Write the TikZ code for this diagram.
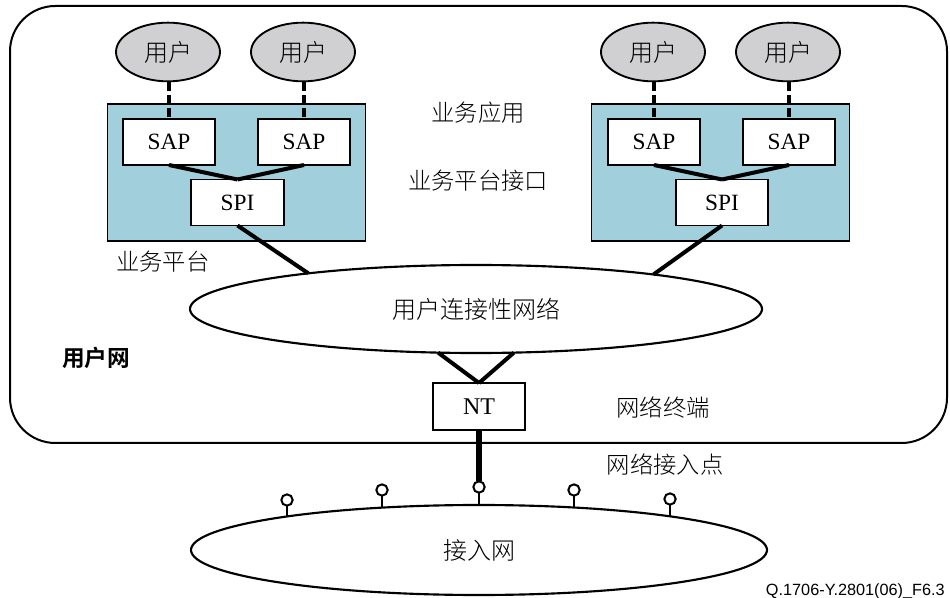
\documentclass[tikz,border=0pt]{standalone}
\usepackage{fontspec}
\setmainfont{Liberation Serif}
\newfontfamily\cjk{Noto Sans CJK SC Light}
\newfontfamily\cjkbold{Noto Sans CJK SC Bold}
\newfontfamily\arialfont{Liberation Sans}
\usetikzlibrary{shapes.geometric}
\definecolor{platblue}{HTML}{A2CFDC}
\definecolor{usergray}{HTML}{D0D0D2}
\begin{document}
\begin{tikzpicture}[x=0.75pt,y=-0.75pt,
  user/.style={ellipse, draw, fill=usergray, line width=1.4pt, minimum width=78pt, minimum height=44pt, inner sep=0pt, outer sep=0pt, font=\cjk\fontsize{18}{18}\selectfont},
  boxn/.style={rectangle, draw, fill=white, line width=1.3pt, minimum width=69.5pt, minimum height=34.5pt, inner sep=0pt, outer sep=0pt, font=\fontsize{17.5}{17.5}\selectfont},
  plat/.style={rectangle, draw, fill=platblue, line width=1.3pt, minimum width=193.5pt, minimum height=102.75pt, inner sep=0pt},
  link/.style={line width=3pt},
  dashlink/.style={line width=3pt, dash pattern=on 7pt off 3pt},
  lbl/.style={font=\cjk\fontsize{17.5}{17.5}\selectfont, inner sep=0pt},
  netell/.style={ellipse, draw, fill=white, line width=1.6pt, inner sep=0pt, outer sep=0pt},
  ap/.style={circle, draw, fill=white, line width=1.5pt, minimum size=8.5pt, inner sep=0pt, outer sep=0pt},
  stem/.style={line width=2pt}
]
\useasboundingbox (0,0) rectangle (950,598);
% outer user network
\draw[line width=1.5pt, rounded corners=34pt] (10,6) rectangle (947,443);

% service platforms
\node[plat] (plat1) at (236.5,172.5) {};
\node[plat] (plat2) at (720.5,172.5) {};

\node[boxn] (sap1) at (169,142) {SAP};
\node[boxn] (sap2) at (304,142) {SAP};
\node[boxn] (sap3) at (654,142) {SAP};
\node[boxn] (sap4) at (789,142) {SAP};
\node[boxn] (spi1) at (237.5,202.5) {SPI};
\node[boxn] (spi2) at (722,202.5) {SPI};

\node[user] (u1) at (168,52) {用户};
\node[user] (u2) at (303,52) {用户};
\node[user] (u3) at (653,52) {用户};
\node[user] (u4) at (788,52) {用户};

\draw[dashlink] (sap1.north |- u1.south) -- (sap1.north);
\draw[dashlink] (sap2.north |- u2.south) -- (sap2.north);
\draw[dashlink] (sap3.north |- u3.south) -- (sap3.north);
\draw[dashlink] (sap4.north |- u4.south) -- (sap4.north);

\draw[link] (sap1.south) -- (spi1.north);
\draw[link] (sap2.south) -- (spi1.north);
\draw[link] (sap3.south) -- (spi2.north);
\draw[link] (sap4.south) -- (spi2.north);

% user connectivity network
\node[netell, minimum width=429pt, minimum height=66pt, font=\cjk\fontsize{18}{18}\selectfont] (net) at (476,309) {用户连接性网络};
\draw[link] (spi1.south) -- (net.168.4);
\draw[link] (spi2.south) -- (net.11.6);

% network terminal
\node[boxn, minimum height=35.25pt, minimum width=69pt, font=\fontsize{18}{18}\selectfont] (nt) at (479,406.5) {NT};
\draw[link] (net.229) -- (nt.north);
\draw[link] (net.311) -- (nt.north);

% access network
\node[netell, minimum width=432pt, minimum height=67.5pt, font=\cjk\fontsize{18}{18}\selectfont] (acc) at (479,550) {接入网};

\node[ap] (ap1) at (287,500) {};
\node[ap] (ap2) at (382,490) {};
\node[ap] (ap3) at (479,487) {};
\node[ap] (ap4) at (574,490) {};
\node[ap] (ap5) at (670,499) {};
\coordinate (b1) at (287,516.5);
\coordinate (b2) at (382,507.6);
\coordinate (b4) at (574,507.5);
\coordinate (b5) at (670,516);
\draw[stem] (ap1.south) -- (b1);
\draw[stem] (ap2.south) -- (b2);
\draw[stem] (ap3.south) -- (acc.north);
\draw[stem] (ap4.south) -- (b4);
\draw[stem] (ap5.south) -- (b5);
\draw[line width=4pt] (nt.south) -- (ap3.north);

% labels
\node[lbl] (l1) at (478,113) {业务应用};
\node[lbl] (l2) at (478,181) {业务平台接口};
\node[lbl, anchor=west] (l3) at (116,262) {业务平台};
\node[lbl, font=\cjkbold\fontsize{17}{17}\selectfont, anchor=west] (l4) at (62,358) {用户网};
\node[lbl] (l5) at (663,407) {网络终端};
\node[lbl] (l6) at (665,465) {网络接入点};
\node[font=\arialfont\fontsize{12.2}{13}\selectfont, anchor=base east, inner sep=0pt] (fig) at (945,595) {Q.1706-Y.2801(06)\_F6.3};
\end{tikzpicture}
\end{document}
